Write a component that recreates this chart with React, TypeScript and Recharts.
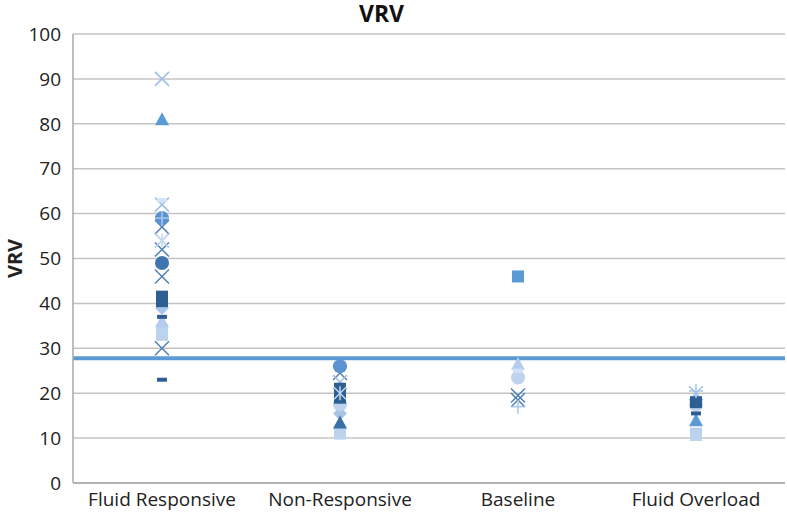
import React from 'react';
import { ScatterChart, Scatter, XAxis, YAxis, CartesianGrid, ReferenceLine } from 'recharts';

// categories on the x axis, and the values of each marker series per category
const categories = ['Fluid Responsive', 'Non-Responsive', 'Baseline', 'Fluid Overload'];
const yTicks = [0, 10, 20, 30, 40, 50, 60, 70, 80, 90, 100];
const cutoffValue = 27.8;

const squareLightValues = [[34, 33], [11], [], [11, 10.7]];
const diamondLightValues = [[39], [15.5], [], []];
const circleLightValues = [[], [17.5], [23.5], [17.5]];
const triangleLightValues = [[36], [], [26.5], []];
const crossDarkValues = [[57, 52, 46, 30], [24.5], [19.5, 18.5], []];
const crossLightValues = [[90, 62, 54], [22.5], [], [20]];
const squareDarkValues = [[41.5, 40.5], [21, 19], [], [18]];
const squareMidValues = [[], [], [46], []];
const circleMidValues = [[59], [26], [], []];
const circleDarkValues = [[49], [], [], []];
const triangleMidValues = [[81], [], [], [14]];
const triangleDarkValues = [[], [13.5], [], []];
const dashDarkValues = [[37, 23], [], [], [15.5]];
const dashLightValues = [[63], [], [25], []];
const plusLightValues = [[59], [], [17], [20.5]];
const starLightValues = [[54], [20], [], []];

type Kind = 'circle' | 'square' | 'triangle' | 'diamond' | 'xmark' | 'dash' | 'plus' | 'star';

const series: { name: string; kind: Kind; color: string; values: number[][] }[] = [
  { name: 'squareLight', kind: 'square', color: '#bcd3ee', values: squareLightValues },
  { name: 'diamondLight', kind: 'diamond', color: '#a7c4e9', values: diamondLightValues },
  { name: 'circleLight', kind: 'circle', color: '#bdd3ee', values: circleLightValues },
  { name: 'triangleLight', kind: 'triangle', color: '#b4cdec', values: triangleLightValues },
  { name: 'crossDark', kind: 'xmark', color: '#4f7fb3', values: crossDarkValues },
  { name: 'crossLight', kind: 'xmark', color: '#9dbde6', values: crossLightValues },
  { name: 'squareDark', kind: 'square', color: '#2e5f92', values: squareDarkValues },
  { name: 'squareMid', kind: 'square', color: '#5b9bd5', values: squareMidValues },
  { name: 'circleMid', kind: 'circle', color: '#5b93d2', values: circleMidValues },
  { name: 'circleDark', kind: 'circle', color: '#3f76ad', values: circleDarkValues },
  { name: 'triangleMid', kind: 'triangle', color: '#5b9bd5', values: triangleMidValues },
  { name: 'triangleDark', kind: 'triangle', color: '#3a70a8', values: triangleDarkValues },
  { name: 'dashDark', kind: 'dash', color: '#2e5f92', values: dashDarkValues },
  { name: 'dashLight', kind: 'dash', color: '#d3e2f4', values: dashLightValues },
  { name: 'plusLight', kind: 'plus', color: '#a9c6ea', values: plusLightValues },
  { name: 'starLight', kind: 'star', color: '#c3d7f0', values: starLightValues },
];

const toPoints = (values: number[][]) =>
  values.flatMap((vals, i) => vals.map((v) => ({ x: i + 0.5, y: v })));

const makeMarker = (kind: Kind, color: string) => (props: any) => {
  const { cx, cy } = props;
  if (cx == null || cy == null) return <g />;
  switch (kind) {
    case 'circle':
      return <circle cx={cx} cy={cy} r={7} fill={color} />;
    case 'square':
      return <rect x={cx - 6} y={cy - 6} width={12} height={12} fill={color} />;
    case 'triangle':
      return <polygon points={`${cx},${cy - 7} ${cx + 7},${cy + 6} ${cx - 7},${cy + 6}`} fill={color} />;
    case 'diamond':
      return <polygon points={`${cx},${cy - 7} ${cx + 7},${cy} ${cx},${cy + 7} ${cx - 7},${cy}`} fill={color} />;
    case 'dash':
      return <rect x={cx - 5} y={cy - 2} width={10} height={4} fill={color} />;
    case 'plus':
      return (
        <g stroke={color} strokeWidth={1.5}>
          <line x1={cx - 7} y1={cy} x2={cx + 7} y2={cy} />
          <line x1={cx} y1={cy - 7} x2={cx} y2={cy + 7} />
        </g>
      );
    case 'star':
      return (
        <g stroke={color} strokeWidth={1.5}>
          <line x1={cx - 6} y1={cy - 6} x2={cx + 6} y2={cy + 6} />
          <line x1={cx - 6} y1={cy + 6} x2={cx + 6} y2={cy - 6} />
          <line x1={cx} y1={cy - 7} x2={cx} y2={cy + 7} />
        </g>
      );
    default:
      return (
        <g stroke={color} strokeWidth={1.5}>
          <line x1={cx - 7} y1={cy - 7} x2={cx + 7} y2={cy + 7} />
          <line x1={cx - 7} y1={cy + 7} x2={cx + 7} y2={cy - 7} />
        </g>
      );
  }
};

const font = '"Open Sans", sans-serif';

const YTitle = (props: any) => {
  const { viewBox } = props;
  const cy = viewBox.y + viewBox.height / 2;
  return (
    <text
      x={14}
      y={cy}
      transform={`rotate(-90 14 ${cy})`}
      textAnchor="middle"
      dominantBaseline="central"
      fontWeight="bold"
      fontSize={20}
      fill="#222"
      fontFamily={font}
    >
      VRV
    </text>
  );
};

export default function App() {
  return (
    <div style={{ position: 'relative', width: 787, height: 516, background: '#fff', fontFamily: font }}>
      <style>{'body{margin:0}'}</style>
      <div
        style={{
          position: 'absolute',
          top: 0,
          left: 0,
          width: 763,
          textAlign: 'center',
          fontWeight: 'bold',
          fontSize: 23,
          color: '#111',
          lineHeight: '26px',
        }}
      >
        VRV
      </div>
      <ScatterChart width={787} height={516} margin={{ top: 34, right: 2, bottom: 3, left: 0 }}>
        <CartesianGrid vertical={false} stroke="#c4c4c4" strokeWidth={1.5} />
        <XAxis
          type="number"
          dataKey="x"
          domain={[0, 4]}
          ticks={[0.5, 1.5, 2.5, 3.5]}
          interval={0}
          height={30}
          tickFormatter={(v: number) => categories[Math.floor(v)]}
          tickLine={false}
          tickMargin={4}
          axisLine={{ stroke: '#a8a8a8', strokeWidth: 1.5 }}
          tick={{ fill: '#222', fontSize: 19, fontFamily: font }}
        />
        <YAxis
          type="number"
          dataKey="y"
          domain={[0, 100]}
          ticks={yTicks}
          interval={0}
          width={73}
          tickLine={false}
          tickSize={6}
          tickMargin={6}
          axisLine={{ stroke: '#a8a8a8', strokeWidth: 1.5 }}
          tick={{ fill: '#222', fontSize: 19, fontFamily: font }}
          label={<YTitle />}
        />
        <ReferenceLine y={cutoffValue} stroke="#5b9bd5" strokeWidth={4} />
        {series.map((s) => (
          <Scatter
            key={s.name}
            name={s.name}
            data={toPoints(s.values)}
            shape={makeMarker(s.kind, s.color)}
            isAnimationActive={false}
          />
        ))}
      </ScatterChart>
    </div>
  );
}
